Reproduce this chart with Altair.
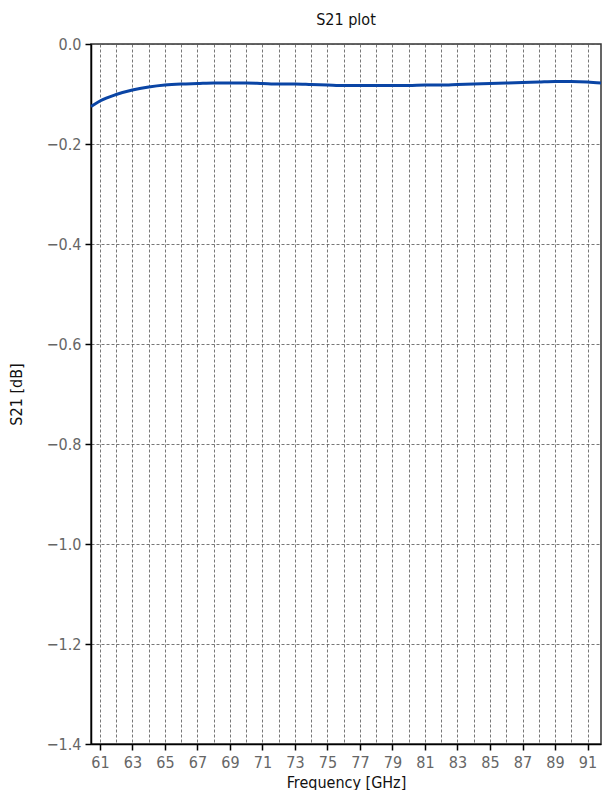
import altair as alt
import pandas as pd

freq = [60.45, 61, 62, 63, 64, 65, 66, 67, 68, 69, 70, 71, 72, 73, 74, 75, 76, 77,
        78, 79, 80, 81, 82, 83, 84, 85, 86, 87, 88, 89, 90, 91, 91.83]
s21 = [-0.125, -0.114, -0.101, -0.092, -0.086, -0.082, -0.080, -0.079, -0.078,
       -0.078, -0.078, -0.079, -0.080, -0.080, -0.081, -0.082, -0.083, -0.083,
       -0.083, -0.083, -0.083, -0.082, -0.082, -0.081, -0.080, -0.079, -0.078,
       -0.077, -0.076, -0.075, -0.075, -0.076, -0.078]
x_grid = list(range(61, 92))
y_ticks = [0.0, -0.2, -0.4, -0.6, -0.8, -1.0, -1.2, -1.4]

df = pd.DataFrame({"f": freq, "s": s21})

FONT = "DejaVu Sans Condensed, Roboto, sans-serif"

chart = alt.Chart(df).mark_line(color="#0a45a5", strokeWidth=3, interpolate="monotone").encode(
    x=alt.X("f:Q", title="Frequency [GHz]",
            scale=alt.Scale(domain=[60.45, 91.83], nice=False, zero=False),
            axis=alt.Axis(values=x_grid,
                          labelExpr="datum.value % 2 == 1 ? datum.label : ''",
                          tickOpacity=alt.expr("datum.value % 2 == 1 ? 1 : 0"),
                          grid=True, gridDash=[3, 2], gridColor="#555555", gridWidth=0.8,
                          domainColor="#000000", domainWidth=1.5,
                          tickColor="#000000", tickWidth=1.5, tickSize=6,
                          labelFont=FONT, labelFontSize=16, labelColor="#666666",
                          labelPadding=4,
                          titleFont=FONT, titleFontSize=16, titleColor="#111111",
                          titleFontWeight="normal", titlePadding=4)),
    y=alt.Y("s:Q", title="S21 [dB]",
            scale=alt.Scale(domain=[-1.4, 0.0], nice=False, zero=False),
            axis=alt.Axis(values=y_ticks, format=".1f",
                          grid=True, gridDash=[3, 2], gridColor="#555555", gridWidth=0.8,
                          domainColor="#000000", domainWidth=1.5,
                          tickColor="#000000", tickWidth=1.5, tickSize=6,
                          labelFont=FONT, labelFontSize=16, labelColor="#666666",
                          labelPadding=4,
                          titleFont=FONT, titleFontSize=16, titleColor="#111111",
                          titleFontWeight="normal", titlePadding=22)),
).properties(
    width=599, height=782,
    padding={"top": 4, "left": 0, "right": 0, "bottom": 0},
    autosize=alt.AutoSizeParams(type="fit", contains="padding"),
    title=alt.TitleParams("S21 plot", font=FONT, fontSize=16, fontWeight="normal",
                          color="#111111", offset=8),
).configure_view(stroke="#333333", strokeWidth=1.5)

chart.save("out.html", embed_options={"renderer": "svg", "actions": False})
